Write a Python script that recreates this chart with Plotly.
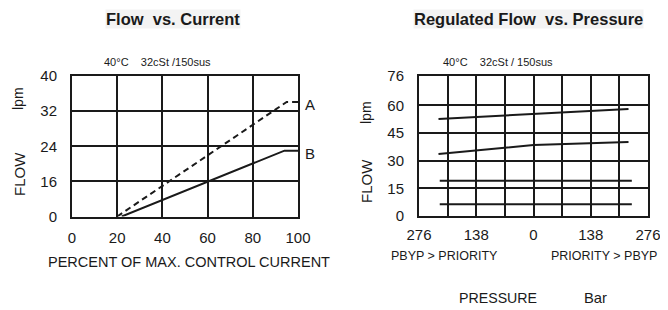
import plotly.graph_objects as go

# ---------------- data ----------------
# Flow vs. Current (y axis drawn 8..40, bottom labelled "0" as in the original)
current_A = [20, 95, 100]
flow_A = [8, 34.1, 34.1]
current_B = [22, 90, 94, 100]
flow_B = [8, 22.1, 23, 23]
left_x_ticks = [0, 20, 40, 60, 80, 100]
left_y_tickvals = [8, 16, 24, 32, 40]
left_y_ticktext = ["0", "16", "24", "32", "40"]

# Regulated Flow vs. Pressure (negative = PBYP > PRIORITY side)
press_1 = [-229, 229]
flow_1 = [52.7, 58.1]
press_2 = [-229, 0, 229]
flow_2 = [33.7, 38.5, 40.2]
press_3 = [-226, 237]
flow_3 = [19.2, 19.2]
press_4 = [-226, 237]
flow_4 = [6.4, 6.4]
right_x_tickvals = [-276, -207, -138, -69, 0, 69, 138, 207, 276]
right_x_ticktext = ["276", "", "138", "", "0", "", "138", "", "276"]
right_y_ticks = [0, 15, 30, 45, 60, 76]

W, H = 668, 310
OFF = 8  # page body margin offset
FONT = "Liberation Sans, Arial, sans-serif"
INK = "#1a1a1a"

fig = go.Figure()
fig.add_trace(go.Scatter(x=current_A, y=flow_A, mode="lines",
                         line=dict(color=INK, width=2, dash="6px,4px"),
                         xaxis="x", yaxis="y", showlegend=False))
fig.add_trace(go.Scatter(x=current_B, y=flow_B, mode="lines",
                         line=dict(color=INK, width=2),
                         xaxis="x", yaxis="y", showlegend=False))
for px_, fy_ in [(press_1, flow_1), (press_2, flow_2), (press_3, flow_3), (press_4, flow_4)]:
    fig.add_trace(go.Scatter(x=px_, y=fy_, mode="lines",
                             line=dict(color=INK, width=2),
                             xaxis="x2", yaxis="y2", showlegend=False))

def px(x):
    return (x - OFF) / W

def py(y):
    return 1 - (y - OFF) / H

axis_common = dict(showline=True, linecolor=INK, linewidth=2, mirror=True,
                   showgrid=True, gridcolor=INK, gridwidth=1.6, zeroline=False,
                   ticks="outside", tickcolor="rgba(0,0,0,0)", automargin=False,
                   tickfont=dict(family=FONT, size=15, color=INK), fixedrange=True)

fig.update_layout(
    width=W, height=H, margin=dict(l=0, r=0, t=0, b=0, pad=0, autoexpand=False),
    paper_bgcolor="white", plot_bgcolor="white",
    xaxis=dict(domain=[px(72), px(298)], range=[0, 100], tickvals=left_x_ticks,
               anchor="y", ticklen=6, **axis_common),
    yaxis=dict(domain=[py(216.5), py(76)], range=[8, 40], tickvals=left_y_tickvals,
               ticktext=left_y_ticktext, anchor="x", ticklen=10, **axis_common),
    xaxis2=dict(domain=[px(419), px(648)], range=[-276, 276], tickvals=right_x_tickvals,
                ticktext=right_x_ticktext, anchor="y2", ticklen=4, **axis_common),
    yaxis2=dict(domain=[py(216), py(76)], range=[0, 76], tickvals=right_y_ticks,
                anchor="x2", ticklen=10, **axis_common),
)

def ann(text, x, y, size, bold=False, angle=0, bg=None):
    t = f"<b>{text}</b>" if bold else text
    d = dict(text=t, x=px(x), y=py(y), xref="paper", yref="paper",
             showarrow=False, xanchor="center", yanchor="middle", textangle=angle,
             font=dict(family=FONT, size=size, color=INK), borderpad=0)
    if bg:
        d["bgcolor"] = bg
    fig.add_annotation(**d)

ann("Flow  vs. Current", 173, 19, 16.5, bold=True, bg="#f3f3f3")
ann("Regulated Flow  vs. Pressure", 528.5, 19, 16.5, bold=True, bg="#f3f3f3")
ann("40°C    32cSt /150sus", 157, 62, 11)
ann("40°C    32cSt / 150sus", 498, 62, 11)
ann("A", 310, 104, 15)
ann("B", 310, 153, 15)
ann("lpm", 18, 99, 14, angle=-90)
ann("FLOW", 19, 174, 15, angle=-90)
ann("lpm", 366, 112, 14, angle=-90)
ann("FLOW", 366, 181, 15, angle=-90)
ann("PERCENT OF MAX. CONTROL CURRENT", 189, 262, 14.5)
ann("PBYP &gt; PRIORITY", 444, 256, 12.5)
ann("PRIORITY &gt; PBYP", 604, 256, 12.5)
ann("PRESSURE", 498, 298, 14.2)
ann("Bar", 595.5, 298, 14.8)

fig.write_html("out.html")
